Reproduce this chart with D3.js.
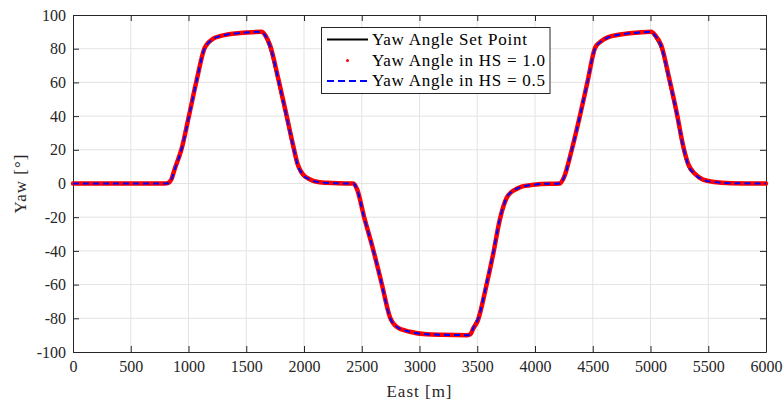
<!DOCTYPE html>
<html lang="en">
<head>
    <meta charset="UTF-8">
    <title>Yaw</title>
    <style>
        body { margin: 0; background: #fff; }
        text { font-family: "Liberation Serif", "DejaVu Serif", serif; }
    </style>
</head>
<body>
<script src="https://cdn.jsdelivr.net/npm/d3@7/dist/d3.min.js"></script>
<script>
    // East [m] sample positions
    let east = [0, 400, 800, 820, 850, 880, 940, 1005, 1068, 1140, 1170, 1210, 1280, 1350, 1450, 1550, 1630,
        1665, 1706, 1778, 1844, 1908, 1945, 1985, 2050, 2100, 2200, 2300, 2427, 2460, 2519, 2600, 2673,
        2745, 2802, 2918, 3062, 3200, 3414, 3440, 3466, 3504, 3576, 3639, 3697, 3755, 3800, 3842, 3900,
        3957, 4050, 4215, 4250, 4320, 4390, 4455, 4520, 4570, 4630, 4700, 4800, 4900, 5006, 5040, 5093,
        5163, 5227, 5284, 5327, 5385, 5455, 5550, 5700, 6000];
    let yawSet = [0, 0, 0, 0, 2, 8, 20, 40, 60, 80, 83, 85.5, 87.5, 88.5, 89.3, 89.8, 90,
        87, 80, 60, 40, 20, 10, 5, 2, 1, 0.3, 0.1, 0, -4, -20, -40, -60,
        -80, -85, -88, -89.5, -89.8, -90, -89, -85, -80, -60, -40, -20, -8, -4.5, -3, -1.5,
        -1, -0.3, 0, 3, 20, 40, 60, 80, 84, 86.5, 88, 89, 89.6, 90, 87, 80,
        60, 40, 20, 10, 5, 2, 0.8, 0.2, 0];
    let yawHS10 = [0, 0, 0, 0.2, 2.2, 8.5, 20.5, 40.5, 60.5, 80.5, 83.5, 85.8, 87.6, 88.6, 89.3, 89.8, 90,
        88, 82, 62, 42, 22, 11.5, 6, 2.5, 1.2, 0.4, 0.1, 0, -3.5, -19.5, -39.5, -59.5,
        -79.5, -85, -88, -89.5, -89.8, -90, -89.5, -86, -81.5, -61.5, -41.5, -21, -8.5, -4.8, -3.2, -1.6,
        -1, -0.3, 0, 3.5, 20.5, 40.5, 60.5, 80.5, 84.3, 86.7, 88, 89, 89.6, 90, 88, 82,
        62, 42, 22, 11.5, 5.8, 2.3, 0.9, 0.2, 0];
    let yawHS05 = [0, 0, 0, 0.1, 2.1, 8.3, 20.3, 40.3, 60.3, 80.3, 83.3, 85.7, 87.6, 88.6, 89.3, 89.8, 90,
        87.7, 81.5, 61.5, 41.5, 21.5, 11, 5.7, 2.3, 1.1, 0.35, 0.1, 0, -3.7, -19.7, -39.7, -59.7,
        -79.7, -85, -88, -89.5, -89.8, -90, -89.3, -85.7, -81, -61, -41, -20.7, -8.3, -4.7, -3.1, -1.6,
        -1, -0.3, 0, 3.3, 20.3, 40.3, 60.3, 80.3, 84.2, 86.6, 88, 89, 89.6, 90, 87.7, 81.5,
        61.5, 41.5, 21.5, 11, 5.5, 2.2, 0.85, 0.2, 0];
    let xTicks = d3.range(0, 6001, 500);
    let yTicks = d3.range(-100, 101, 20);
    let legendLabels = ["Yaw Angle Set Point", "Yaw Angle in HS = 1.0", "Yaw Angle in HS = 0.5"];

    let width = 783;
    let height = 406;
    let margin = {top: 15, right: 17, bottom: 54, left: 73};
    let svg = d3.select("body").append("svg")
        .attr("width", width)
        .attr("height", height);

    let x = d3.scaleLinear().domain([0, 6000]).range([margin.left, width - margin.right]);
    let y = d3.scaleLinear().domain([-100, 100]).range([height - margin.bottom, margin.top]);
    let x0 = margin.left, x1 = width - margin.right, y0 = height - margin.bottom, y1 = margin.top;

    // grid
    svg.append("g").selectAll("line").data(xTicks.slice(1, -1)).enter().append("line")
        .attr("x1", d => x(d)).attr("x2", d => x(d))
        .attr("y1", y0).attr("y2", y1)
        .attr("stroke", "#e3e3e3").attr("stroke-width", 1);
    svg.append("g").selectAll("line").data(yTicks.slice(1, -1)).enter().append("line")
        .attr("x1", x0).attr("x2", x1)
        .attr("y1", d => y(d)).attr("y2", d => y(d))
        .attr("stroke", "#e3e3e3").attr("stroke-width", 1);

    // axes, ticks inward on all four sides
    let plain = d => String(d);
    svg.append("g")
        .attr("transform", `translate(0,${y0})`)
        .call(d3.axisBottom(x).tickValues(xTicks).tickFormat(plain).tickSizeInner(-6).tickSizeOuter(0).tickPadding(9));
    svg.append("g")
        .attr("transform", `translate(${x0},0)`)
        .call(d3.axisLeft(y).tickValues(yTicks).tickFormat(plain).tickSizeInner(-6).tickSizeOuter(0).tickPadding(7));
    svg.append("g")
        .attr("transform", `translate(0,${y1})`)
        .call(d3.axisTop(x).tickValues(xTicks).tickSizeInner(-6).tickSizeOuter(0).tickFormat(""));
    svg.append("g")
        .attr("transform", `translate(${x1},0)`)
        .call(d3.axisRight(y).tickValues(yTicks).tickSizeInner(-6).tickSizeOuter(0).tickFormat(""));
    svg.selectAll(".domain").attr("stroke", "#262626");
    svg.selectAll(".tick line").attr("stroke", "#262626");
    svg.selectAll(".tick text")
        .attr("fill", "#262626")
        .attr("font-family", "Liberation Serif")
        .style("font-family", "'Liberation Serif', serif")
        .style("font-size", "16px");

    svg.append("text")
        .attr("x", (x0 + x1) / 2).attr("y", 397)
        .attr("text-anchor", "middle")
        .attr("fill", "#262626")
        .style("font-size", "17px")
        .style("letter-spacing", "1px")
        .text("East [m]");
    svg.append("text")
        .attr("transform", `translate(26,${(y0 + y1) / 2}) rotate(-90)`)
        .attr("text-anchor", "middle")
        .attr("fill", "#262626")
        .style("font-size", "17px")
        .style("letter-spacing", "1px")
        .text("Yaw [°]");

    // curves
    let pts = vals => east.map((e, i) => [e, vals[i]]);
    let line = d3.line().x(d => x(d[0])).y(d => y(d[1])).curve(d3.curveMonotoneX);
    let plot = svg.append("g");
    plot.append("path").attr("d", line(pts(yawSet)))
        .attr("fill", "none").attr("stroke", "#000").attr("stroke-width", 2.2);
    plot.append("path").attr("d", line(pts(yawHS10)))
        .attr("fill", "none").attr("stroke", "#ff0000").attr("stroke-width", 4.5)
        .attr("stroke-linecap", "round").attr("stroke-linejoin", "round");
    plot.append("path").attr("d", line(pts(yawHS05)))
        .attr("fill", "none").attr("stroke", "#0000ff").attr("stroke-width", 2)
        .attr("stroke-dasharray", "6,4");

    // legend
    let lg = svg.append("g");
    lg.append("rect")
        .attr("x", 321.5).attr("y", 27.5).attr("width", 228.5).attr("height", 66)
        .attr("fill", "#fff").attr("stroke", "#262626").attr("stroke-width", 1);
    let rows = [39.5, 60.5, 81];
    lg.append("line").attr("x1", 327).attr("x2", 368).attr("y1", rows[0]).attr("y2", rows[0])
        .attr("stroke", "#000").attr("stroke-width", 2);
    lg.append("circle").attr("cx", 347.5).attr("cy", rows[1]).attr("r", 1.5).attr("fill", "#ff0000");
    lg.append("line").attr("x1", 327).attr("x2", 368).attr("y1", rows[2]).attr("y2", rows[2])
        .attr("stroke", "#0000ff").attr("stroke-width", 2).attr("stroke-dasharray", "7,4");
    lg.selectAll("text.lab").data(legendLabels).enter().append("text")
        .attr("class", "lab")
        .attr("x", 372).attr("y", (d, i) => rows[i] + 5)
        .attr("fill", "#000")
        .style("font-size", "17px")
        .style("letter-spacing", "0.75px")
        .text(d => d);
</script>
</body>
</html>
